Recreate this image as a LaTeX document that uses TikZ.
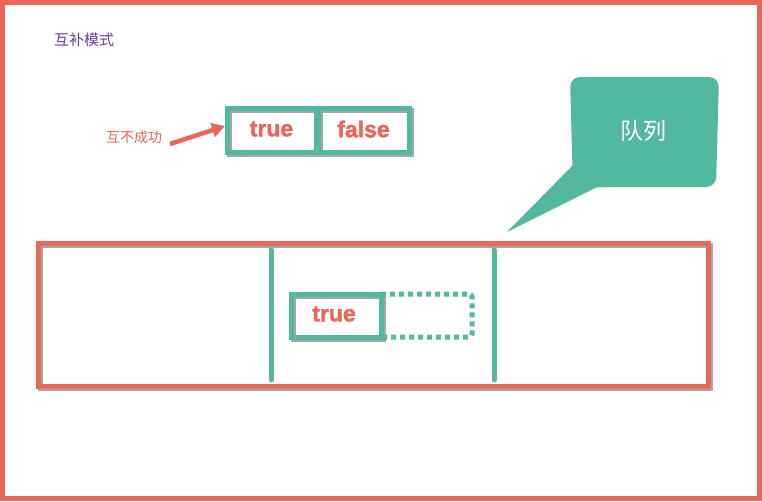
\documentclass[tikz,border=0pt]{standalone}
\usepackage{fontspec}
\setmainfont{Liberation Sans}
\newfontfamily\cjk{Noto Sans CJK SC}
\newfontfamily\valfont[FakeBold=1.6]{Liberation Sans Bold}
\usetikzlibrary{arrows.meta}
\definecolor{myred}{HTML}{E8675A}
\definecolor{mygreen}{HTML}{52B8A0}
\definecolor{mypurple}{HTML}{6A3D9A}
\begin{document}
\begin{tikzpicture}[x=1pt,y=-1pt,
  redframe/.style={draw=myred,line width=5pt},
  greenbox/.style={draw=mygreen,line width=5pt},
  shad/.style={draw=black!35,line width=5pt},
  valtxt/.style={font=\valfont\fontsize{23}{23}\selectfont,text=myred,inner sep=0pt},
  lbl/.style={font=\cjk\fontsize{14}{14}\selectfont,inner sep=0pt},
  ttl/.style={font=\cjk\fontsize{15}{15}\selectfont,inner sep=0pt}]
\useasboundingbox (0,0) rectangle (762,501);
\fill[white] (0,0) rectangle (762,501);
% outer frame
\draw[redframe] (2.5,2.5) rectangle (759.5,498.5);
% title
\node[ttl,text=mypurple] (title) at (84,40) {互补模式};
% top boxes
\draw[shad] (229,110) rectangle (318,154);
\draw[shad] (320,110) rectangle (411,154);
\draw[greenbox] (227,108) rectangle (316,152);
\draw[greenbox] (318,108) rectangle (409,152);
\node[valtxt] (t1) at (271.5,129) {true};
\node[valtxt] (f1) at (363.5,129) {false};
\coordinate (t1w) at (225,126);
\node[lbl,text=myred] (fail) at (134,137) {互不成功};
\coordinate (arrs) at (170,144);
\draw[myred,line width=4.5pt,-{Triangle[length=13pt,width=14pt]}] (arrs) -- (t1w);
% callout
\fill[mygreen,rounded corners=10pt] (570,77) -- (719,77) -- (716,187) -- (573,187) -- cycle;
\fill[mygreen] (573,150) -- (573,165) -- (507,232) -- (597,187) -- (610,187) -- (610,150) -- cycle;
\node[font=\cjk\fontsize{23}{23}\selectfont,text=white] (q) at (643,131) {队列};
% queue
\draw[shad] (40,245) rectangle (710,388);
\draw[redframe] (38,243) rectangle (708,386);
\draw[mygreen,line width=5pt,line cap=round] (271,250) -- (271,380);
\draw[mygreen,line width=5pt,line cap=round] (494,250) -- (494,380);
% bottom boxes
\draw[shad] (293,296) rectangle (383,339);
\draw[greenbox] (291,294) rectangle (381,337);
\node[valtxt] (t2) at (334,314) {true};
\draw[mygreen,line width=5pt,dash pattern=on 5pt off 4pt,rounded corners=3pt] (381,294) -- (472,294) -- (472,337) -- (381,337);
\end{tikzpicture}
\end{document}
